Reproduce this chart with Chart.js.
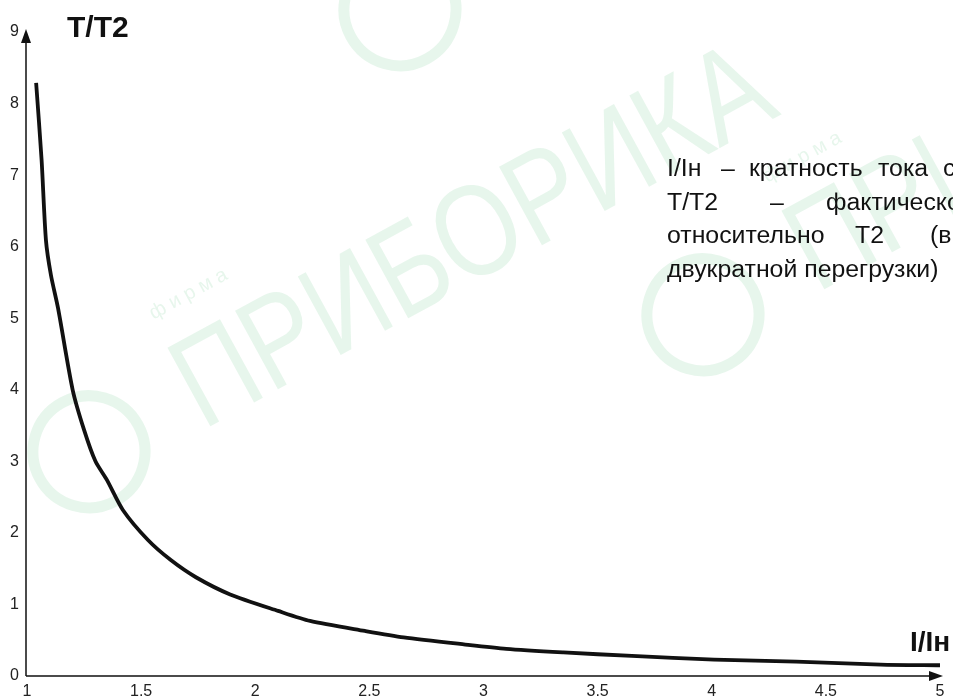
<!DOCTYPE html>
<html>
<head>
<meta charset="utf-8">
<script src="https://cdn.jsdelivr.net/npm/chart.js@4"></script>
<style>
  body { margin: 0; background: #fff; }
  #chart { display: block; }
</style>
</head>
<body>
<canvas id="chart" width="953" height="700"></canvas>
<script>
// I/Iн (current ratio) and T/T2 (trip time ratio)
const ratioI = [1.04, 1.064, 1.083, 1.105, 1.136, 1.2, 1.25, 1.3, 1.35, 1.42, 1.53, 1.63, 1.74, 1.89, 2.1, 2.24, 2.48, 2.65, 2.92, 3.1, 3.35, 3.65, 4.01, 4.37, 4.74, 5.0];
const ratioT = [8.29, 7.21, 6.09, 5.6, 5.14, 4.0, 3.44, 3.0, 2.74, 2.32, 1.9, 1.62, 1.38, 1.14, 0.91, 0.77, 0.63, 0.54, 0.44, 0.38, 0.33, 0.28, 0.23, 0.2, 0.16, 0.15];

const xTicks = [1, 1.5, 2, 2.5, 3, 3.5, 4, 4.5, 5];
const yTicks = [0, 1, 2, 3, 4, 5, 6, 7, 8, 9];

const yTitle = "T/T2";
const xTitle = "I/Iн";
const noteLines = [
  ["I/Iн", "–", "кратность", "тока", "сверх"],
  ["T/T2", "–", "фактическое"],
  ["относительно", "T2", "(времени"],
  ["двукратной перегрузки)"]
];

const FONT = "'Liberation Sans', Arial, sans-serif";

// faint company watermark behind the chart
const watermark = {
  id: "watermark",
  beforeDraw(chart) {
    const ctx = chart.ctx;
    const spots = [[440, 260], [1054, 123], [751, -182]];
    ctx.save();
    ctx.fillStyle = "rgba(40,170,80,0.11)";
    ctx.strokeStyle = "rgba(40,170,80,0.11)";
    spots.forEach(([cx, cy]) => {
      ctx.save();
      ctx.translate(cx, cy);
      ctx.rotate(-0.5);
      ctx.font = "130px " + FONT;
      const w = ctx.measureText("ПРИБОРИКА").width;
      ctx.save();
      ctx.scale(660 / w, 1);
      ctx.textAlign = "center";
      ctx.textBaseline = "middle";
      ctx.fillText("ПРИБОРИКА", 40 * w / 660, 0);
      ctx.restore();
      ctx.lineWidth = 11;
      ctx.beginPath();
      ctx.arc(-400, 0, 56, 0, Math.PI * 2);
      ctx.stroke();
      ctx.font = "20px " + FONT;
      ctx.fillText("ф и р м а", -280, -85);
      ctx.restore();
    });
    ctx.restore();
  }
};

// axes with arrows, axis titles and the note on the right
const decorations = {
  id: "decorations",
  afterDraw(chart) {
    const ctx = chart.ctx;
    const xs = chart.scales.x, ys = chart.scales.y;
    const x0 = xs.getPixelForValue(1), y0 = ys.getPixelForValue(0);
    const xEnd = xs.getPixelForValue(5) + 3, yEnd = ys.getPixelForValue(9) - 3;
    ctx.save();
    ctx.strokeStyle = "#111";
    ctx.fillStyle = "#111";
    ctx.lineWidth = 1.5;
    ctx.beginPath();
    ctx.moveTo(x0 - 1, y0);
    ctx.lineTo(xEnd - 8, y0);
    ctx.moveTo(x0 - 1, y0);
    ctx.lineTo(x0 - 1, yEnd + 8);
    ctx.stroke();
    ctx.beginPath();
    ctx.moveTo(xEnd, y0);
    ctx.lineTo(xEnd - 14, y0 - 5);
    ctx.lineTo(xEnd - 14, y0 + 5);
    ctx.closePath();
    ctx.fill();
    ctx.beginPath();
    ctx.moveTo(x0 - 1, yEnd);
    ctx.lineTo(x0 - 6, yEnd + 14);
    ctx.lineTo(x0 + 4, yEnd + 14);
    ctx.closePath();
    ctx.fill();

    ctx.font = "bold 30px " + FONT;
    ctx.textBaseline = "alphabetic";
    ctx.fillText(yTitle, 67, 37);
    ctx.font = "bold 28px " + FONT;
    ctx.fillText(xTitle, 910, 651);

    // justified note, cut by the right edge
    ctx.font = "23px " + FONT;
    ctx.fillStyle = "#111";
    const wordX = [[667, 721, 749, 878, 943], [667, 770, 826], [667, 855, 930], [667]];
    const baseY = [176, 210, 243, 277];
    noteLines.forEach((words, i) => {
      words.forEach((wd, j) => {
        ctx.save();
        ctx.translate(wordX[i][j], baseY[i]);
        ctx.scale(1.08, 1);
        ctx.fillText(wd, 0, 0);
        ctx.restore();
      });
    });
    ctx.restore();
  }
};

new Chart(document.getElementById("chart"), {
  type: "line",
  data: {
    datasets: [{
      data: ratioI.map((x, i) => ({ x: x, y: ratioT[i] })),
      borderColor: "#111",
      borderWidth: 3.8,
      pointRadius: 0,
      tension: 0.25,
      fill: false
    }]
  },
  options: {
    responsive: false,
    animation: false,
    layout: { padding: { top: 32, right: 13, left: 0, bottom: 0 } },
    plugins: { legend: { display: false }, tooltip: { enabled: false } },
    scales: {
      x: {
        type: "linear",
        min: 1,
        max: 5,
        afterBuildTicks: s => { s.ticks = xTicks.map(v => ({ value: v })); },
        afterFit: s => { s.height = 24; },
        grid: { display: false, drawTicks: false },
        border: { display: false },
        ticks: { font: { family: FONT, size: 16 }, color: "#222", padding: 6, maxRotation: 0, autoSkip: false, callback: v => String(v) }
      },
      y: {
        type: "linear",
        min: 0,
        max: 9,
        afterBuildTicks: s => { s.ticks = yTicks.map(v => ({ value: v })); },
        afterFit: s => { s.width = 27; },
        grid: { display: false, drawTicks: false },
        border: { display: false },
        ticks: { font: { family: FONT, size: 16 }, color: "#222", padding: 8, callback: v => String(v) }
      }
    }
  },
  plugins: [watermark, decorations]
});
</script>
</body>
</html>
